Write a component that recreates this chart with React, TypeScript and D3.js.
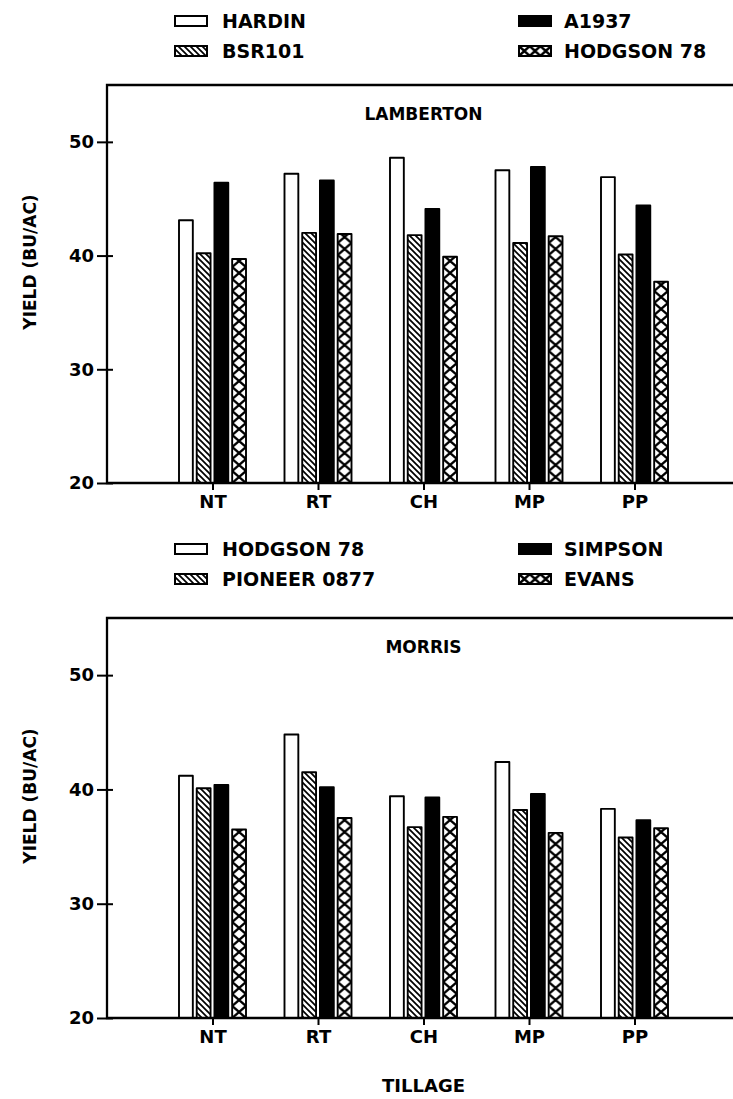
import React, { useEffect, useRef } from "react";
import * as d3 from "d3";

const tillage = ["NT", "RT", "CH", "MP", "PP"];
const yTicks = [20, 30, 40, 50];

const lambertonVarieties = ["HARDIN", "BSR101", "A1937", "HODGSON 78"];
const lambertonHardin = [43.1, 47.2, 48.6, 47.5, 46.9];
const lambertonBsr101 = [40.2, 42.0, 41.8, 41.1, 40.1];
const lambertonA1937 = [46.4, 46.6, 44.1, 47.8, 44.4];
const lambertonHodgson = [39.7, 41.9, 39.9, 41.7, 37.7];

const morrisVarieties = ["HODGSON 78", "PIONEER 0877", "SIMPSON", "EVANS"];
const morrisHodgson = [41.2, 44.8, 39.4, 42.4, 38.3];
const morrisPioneer = [40.1, 41.5, 36.7, 38.2, 35.8];
const morrisSimpson = [40.4, 40.2, 39.3, 39.6, 37.3];
const morrisEvans = [36.5, 37.5, 37.6, 36.2, 36.6];

// fill style for the 1st..4th variety of each site
const fills = ["open", "hatch", "solid", "cross"];

const panels = [
  {
    site: "LAMBERTON",
    names: lambertonVarieties,
    series: [lambertonHardin, lambertonBsr101, lambertonA1937, lambertonHodgson],
    top: 85,
    bottom: 483,
    legendY: 21,
  },
  {
    site: "MORRIS",
    names: morrisVarieties,
    series: [morrisHodgson, morrisPioneer, morrisSimpson, morrisEvans],
    top: 618,
    bottom: 1018,
    legendY: 549,
  },
];

const FONT = "'DejaVu Sans', sans-serif";

const App = () => {
  const svgRef = useRef<SVGSVGElement>(null);

  useEffect(() => {
    const width = 733;
    const height = 1099;
    const left = 107;
    const svg = d3.select(svgRef.current);
    svg.selectAll("*").remove();
    svg.attr("width", width).attr("height", height);

    svg.append("rect").attr("width", width).attr("height", height).attr("fill", "white");

    const defs = svg.append("defs");
    const hatch = defs
      .append("pattern")
      .attr("id", "hatch")
      .attr("patternUnits", "userSpaceOnUse")
      .attr("width", 6)
      .attr("height", 6);
    hatch.append("rect").attr("width", 6).attr("height", 6).attr("fill", "white");
    hatch
      .append("path")
      .attr("d", "M-1.5,-1.5L7.5,7.5M-1.5,4.5L1.5,7.5M4.5,-1.5L7.5,1.5")
      .attr("stroke", "black")
      .attr("stroke-width", 1.7);

    const x = d3.scalePoint().domain(tillage).range([left, 740]).padding(1);
    const inner = d3
      .scaleBand()
      .domain(["0", "1", "2", "3"])
      .range([-33.5, 33.5])
      .paddingInner(0.22);
    const bw = inner.bandwidth();

    const crossPattern = (id: string, px: number, py: number, w: number, h: number) => {
      const pat = defs
        .append("pattern")
        .attr("id", id)
        .attr("patternUnits", "userSpaceOnUse")
        .attr("x", px)
        .attr("y", py)
        .attr("width", w)
        .attr("height", h);
      pat.append("rect").attr("width", w).attr("height", h).attr("fill", "white");
      pat
        .append("path")
        .attr("d", `M0,0L${w},${h}M${w},0L0,${h}`)
        .attr("stroke", "black")
        .attr("stroke-width", 2.4);
      return `url(#${id})`;
    };

    panels.forEach((p, pi) => {
      const y = d3.scaleLinear().domain([20, 55]).range([p.bottom, p.top]);
      const g = svg.append("g");

      // legend, two columns
      p.names.forEach((name, i) => {
        const lx = i < 2 ? 175 : 519;
        const ly = p.legendY + (i % 2) * 30;
        let fill = "white";
        if (fills[i] === "solid") fill = "black";
        if (fills[i] === "hatch") fill = "url(#hatch)";
        if (fills[i] === "cross") fill = crossPattern(`cross-leg-${pi}`, lx, ly - 5, 10.7, 10);
        g.append("rect")
          .attr("x", lx)
          .attr("y", ly - 5)
          .attr("width", 32)
          .attr("height", 10)
          .attr("fill", fill)
          .attr("stroke", "black")
          .attr("stroke-width", 2);
        g.append("text")
          .attr("x", lx + (i < 2 ? 47 : 45))
          .attr("y", ly)
          .attr("dominant-baseline", "central")
          .style("font-family", FONT)
          .style("font-size", "19px")
          .style("font-weight", "bold")
          .text(name);
      });

      // bars
      p.series.forEach((vals, si) => {
        vals.forEach((v, ci) => {
          const bx = (x(tillage[ci]) as number) + (inner(String(si)) as number);
          let fill = "white";
          if (fills[si] === "solid") fill = "black";
          if (fills[si] === "hatch") fill = "url(#hatch)";
          if (fills[si] === "cross") fill = crossPattern(`cross-${pi}-${ci}`, bx, p.bottom, bw, 12);
          g.append("rect")
            .attr("x", bx)
            .attr("y", y(v))
            .attr("width", bw)
            .attr("height", y(20) - y(v))
            .attr("fill", fill)
            .attr("stroke", "black")
            .attr("stroke-width", 1.9)
            .attr("stroke-linejoin", "round");
        });
      });

      // frame: left axis, top and bottom lines (no right side)
      g.append("path")
        .attr("d", `M${width},${p.top}H${left}V${p.bottom}H${width}`)
        .attr("fill", "none")
        .attr("stroke", "black")
        .attr("stroke-width", 2.3);

      // y ticks cross the axis
      const yAxis = g
        .append("g")
        .attr("transform", `translate(${left},0)`)
        .call(d3.axisLeft(y).tickValues(yTicks).tickSize(10).tickPadding(3));
      yAxis.select(".domain").remove();
      yAxis.selectAll("line").attr("x1", 6).attr("stroke-width", 2);
      yAxis
        .selectAll("text")
        .style("font-family", FONT)
        .style("font-size", "18px")
        .style("font-weight", "bold")
        .attr("fill", "black");

      const xAxis = g
        .append("g")
        .attr("transform", `translate(0,${p.bottom})`)
        .call(d3.axisBottom(x).tickSize(7).tickPadding(5));
      xAxis.select(".domain").remove();
      xAxis.selectAll("line").attr("stroke-width", 2);
      xAxis
        .selectAll("text")
        .style("font-family", FONT)
        .style("font-size", "18px")
        .style("font-weight", "bold")
        .attr("fill", "black");

      g.append("text")
        .attr("x", (left + 740) / 2)
        .attr("y", p.top + 29)
        .attr("text-anchor", "middle")
        .attr("dominant-baseline", "central")
        .style("font-family", FONT)
        .style("font-size", "17px")
        .style("font-weight", "bold")
        .text(p.site);

      g.append("text")
        .attr("transform", `translate(30,${(p.top + p.bottom) / 2 - 22}) rotate(-90)`)
        .attr("text-anchor", "middle")
        .attr("dominant-baseline", "central")
        .style("font-family", FONT)
        .style("font-size", "17px")
        .style("font-weight", "bold")
        .text("YIELD (BU/AC)");
    });

    svg
      .append("text")
      .attr("x", (left + 740) / 2)
      .attr("y", 1085)
      .attr("text-anchor", "middle")
      .attr("dominant-baseline", "central")
      .style("font-family", FONT)
      .style("font-size", "18px")
      .style("font-weight", "bold")
      .text("TILLAGE");
  }, []);

  return (
    <svg ref={svgRef} style={{ position: "absolute", left: 0, top: 0, display: "block" }}></svg>
  );
};

export default App;
